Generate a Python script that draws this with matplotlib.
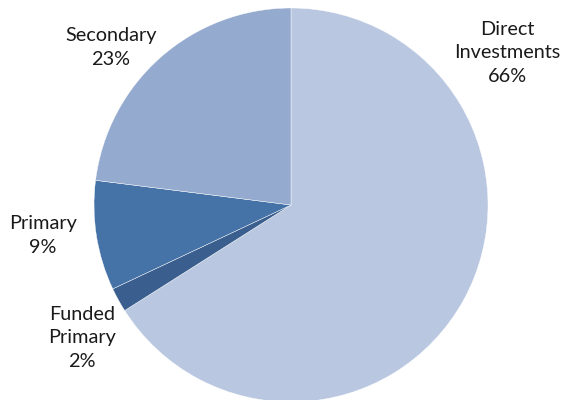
import matplotlib
matplotlib.use("Agg")
import matplotlib.pyplot as plt

# Portfolio allocation by strategy
categories = ["Direct\nInvestments", "Funded\nPrimary", "Primary", "Secondary"]
shares = [66, 2, 9, 23]
colors = ["#B9C7E0", "#3A5F8E", "#4673A7", "#95AACF"]

# Label anchors: centre x and last-line baseline y (pixels, origin top-left)
label_xy = [(507, 82), (82, 367), (43, 253), (111, 65)]

W, H = 565, 400
fig = plt.figure(figsize=(W / 100, H / 100), dpi=100)
ax = fig.add_axes([0, 0, 1, 1])

ax.pie(shares, colors=colors, startangle=90, counterclock=False,
       center=(291, H - 205), radius=197, frame=True,
       wedgeprops=dict(edgecolor="white", linewidth=0.3))
ax.set_xlim(0, W)
ax.set_ylim(0, H)
ax.set_aspect("equal")
ax.axis("off")

for name, val, (x, y) in zip(categories, shares, label_xy):
    ax.text(x, H - y, f"{name}\n{val}%", ha="center", va="baseline",
            fontsize=14.3, family="Lato", linespacing=1.48, color="#1a1a1a")

fig.savefig("out.png", dpi=100)
